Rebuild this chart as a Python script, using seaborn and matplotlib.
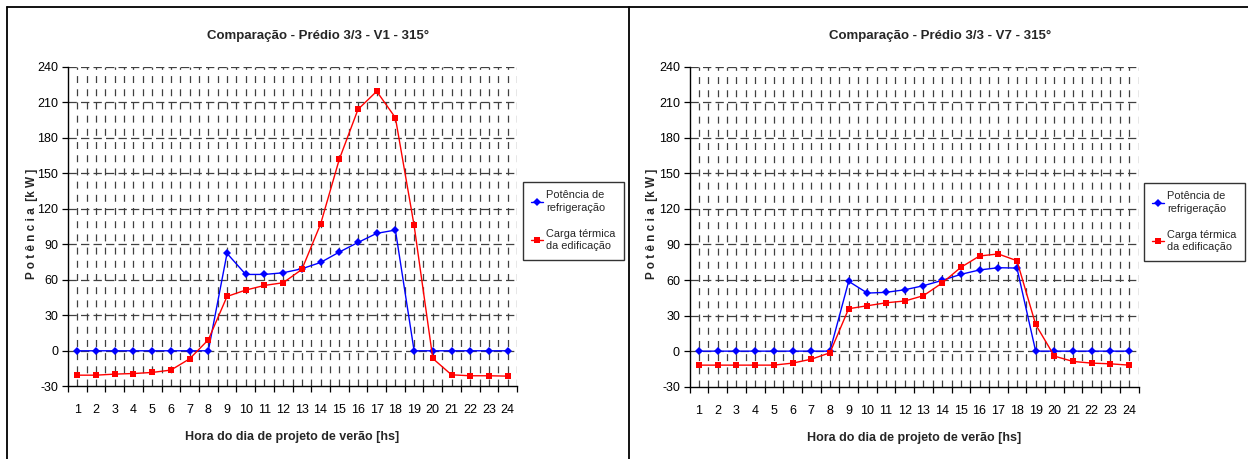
import numpy as np
import pandas as pd
import seaborn as sns
import matplotlib
matplotlib.use("Agg")
import matplotlib.pyplot as plt
from matplotlib.lines import Line2D

hours = list(range(1, 25))
series_names = ["Potência de\nrefrigeração", "Carga térmica\nda edificação"]
titles = ["Comparação - Prédio 3/3 - V1 - 315°", "Comparação - Prédio 3/3 - V7 - 315°"]

v1_refrig = [0, 0, 0, 0, 0, 0, 0, 0, 82.3, 64.5, 64.5, 65.9, 69.3, 74.6, 83.4, 91.5,
             99.2, 102.0, 0, 0, 0, 0, 0, 0]
v1_carga = [-20.6, -20.6, -19.7, -19.2, -18.3, -16.3, -6.8, 9.3, 45.9, 51.3, 55.2, 57.5,
            68.7, 107.0, 161.7, 203.9, 219.2, 196.9, 105.9, -6.5, -20.3, -21.1, -21.1, -21.4]
v7_refrig = [0, 0, 0, 0, 0, 0, 0, 0, 58.9, 49.0, 49.6, 51.8, 55.2, 59.7, 64.8, 68.5,
             70.4, 70.1, 0, 0, 0, 0, 0, 0]
v7_carga = [-11.8, -11.8, -11.8, -11.8, -11.8, -10.1, -6.8, -1.4, 35.8, 38.3, 40.8, 42.3,
            46.8, 57.5, 70.7, 80.3, 82.0, 76.3, 22.5, -4.2, -8.7, -10.1, -10.7, -11.8]

y_ticks = [-30, 0, 30, 60, 90, 120, 150, 180, 210, 240]

sns.set_theme(style="white")
plt.rcParams['font.family'] = ['Liberation Sans', 'DejaVu Sans']
plt.rcParams['lines.scale_dashes'] = False

W, H = 1248, 459
fig = plt.figure(figsize=(W / 100, H / 100), dpi=100)
fig.patch.set_facecolor("white")

palette = {series_names[0]: "#0000FF", series_names[1]: "#FF0000"}
markers = {series_names[0]: "D", series_names[1]: "s"}

axes_px = [(68, 66.7, 517, 386.3), (689.7, 66.7, 1138.5, 386.7)]
datasets = [(v1_refrig, v1_carga), (v7_refrig, v7_carga)]
title_x = [318, 940]
ylabel_x = [32, 652]
legend_px = [(522.5, 182, 623, 282), (1143.7, 183, 1242, 283)]

for i in range(2):
    x0, y0, x1, y1 = axes_px[i]
    ax = fig.add_axes([x0 / W, 1 - y1 / H, (x1 - x0) / W, (y1 - y0) / H])
    ax.set_facecolor("white")
    refrig, carga = datasets[i]
    df = pd.DataFrame({
        "Hora": hours * 2,
        "Potencia": list(refrig) + list(carga),
        "Serie": [series_names[0]] * 24 + [series_names[1]] * 24,
    })
    sns.lineplot(data=df, x="Hora", y="Potencia", hue="Serie", style="Serie",
                 palette=palette, markers=markers, dashes=False, ax=ax,
                 legend=False, linewidth=1.0, markersize=4.2, markeredgewidth=0,
                 zorder=5)
    ax.set_xlim(0.5, 24.5)
    ax.set_ylim(-30, 240)
    ax.set_yticks(y_ticks)
    ax.set_yticklabels([str(t) for t in y_ticks])
    ax.set_xticks(hours)
    ax.set_xticklabels([str(h) for h in hours])
    ax.set_xticks(np.arange(0.5, 25, 1.0), minor=True)
    ax.tick_params(axis="x", which="major", length=0, pad=13, labelsize=9, colors="black")
    ax.tick_params(axis="x", which="minor", length=4, width=0.9, color="black", direction="out", bottom=True)
    ax.tick_params(axis="y", which="major", length=4, width=0.9, color="black", direction="out",
                   left=True, pad=3, labelsize=9, labelcolor="black")
    # gridlines
    gstyle = dict(color="#404040", linewidth=0.9, linestyle=(0, (5.0, 4.5)))
    for xv in np.arange(1.0, 24.51, 0.5):
        ax.axvline(xv, zorder=1, **gstyle)
    for yv in y_ticks[1:]:
        ax.axhline(yv, color="#404040", linewidth=0.9, linestyle=(0, (6.0, 3.0)), zorder=1)
    for s in ["top", "right"]:
        ax.spines[s].set_visible(False)
    for s in ["left", "bottom"]:
        ax.spines[s].set_color("black")
        ax.spines[s].set_linewidth(1.0)
    ax.set_ylabel("")
    ax.set_xlabel("Hora do dia de projeto de verão [hs]", fontsize=9, fontweight="bold")
    ax.xaxis.set_label_coords(0.5, -0.14)

    fig.text(title_x[i] / W, 1 - 36 / H, titles[i], ha="center", va="center",
             fontsize=9.5, fontweight="bold")
    fig.text(ylabel_x[i] / W, 1 - 224 / H, "P o t ê n c i a  [k W ]", rotation=90,
             ha="center", va="center", fontsize=8.5, fontweight="bold")

    lines = ax.get_lines()[:2]
    handles = [Line2D([], [], color=l.get_color(), marker=l.get_marker(), markersize=4.2,
                      linewidth=1.0, markeredgewidth=0) for l in lines]
    lx0, ly0, lx1, ly1 = legend_px[i]
    leg = fig.legend(handles, series_names, loc="upper left",
                     bbox_to_anchor=(lx0 / W, 1 - ly0 / H), bbox_transform=fig.transFigure,
                     frameon=True, fancybox=False, shadow=False, fontsize=7.9,
                     handlelength=1.1, handletextpad=0.3, labelspacing=1.5,
                     borderpad=0.75, borderaxespad=0)
    for t in leg.get_texts():
        t.set_linespacing(1.3)
    leg.get_frame().set_edgecolor("black")
    leg.get_frame().set_linewidth(1.0)

# outer frames
fig.add_artist(Line2D([6.7 / W, 1.0], [1 - 6.7 / H] * 2, color="black", linewidth=1.3,
                      transform=fig.transFigure))
fig.add_artist(Line2D([6.7 / W] * 2, [0, 1 - 6.7 / H], color="black", linewidth=1.3,
                      transform=fig.transFigure))
fig.add_artist(Line2D([629 / W] * 2, [0, 1 - 6.7 / H], color="black", linewidth=1.3,
                      transform=fig.transFigure))

fig.savefig("out.png", dpi=100, facecolor="white")
